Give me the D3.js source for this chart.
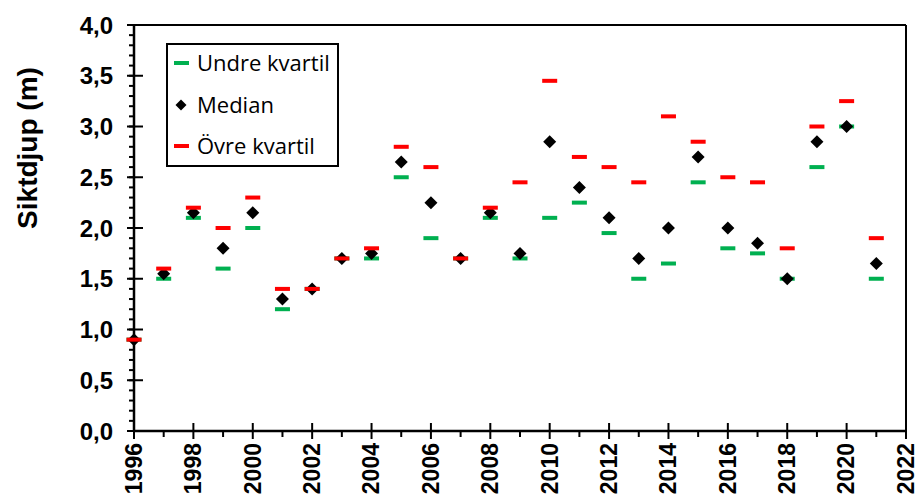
<!DOCTYPE html>
<html>
<head>
<meta charset="utf-8">
<script src="https://cdn.jsdelivr.net/npm/d3@7"></script>
<style>
  html, body { margin: 0; padding: 0; background: #fff; }
  svg { display: block; }
</style>
</head>
<body>
<svg id="chart" width="918" height="503"></svg>
<script>
// Siktdjup per år: undre kvartil, median, övre kvartil (m)
const years  = [1996, 1997, 1998, 1999, 2000, 2001, 2002, 2003, 2004, 2005, 2006, 2007, 2008,
                2009, 2010, 2011, 2012, 2013, 2014, 2015, 2016, 2017, 2018, 2019, 2020, 2021];
const lower  = [0.9, 1.5, 2.1, 1.6, 2.0, 1.2, 1.4, 1.7, 1.7, 2.5, 1.9, 1.7, 2.1,
                1.7, 2.1, 2.25, 1.95, 1.5, 1.65, 2.45, 1.8, 1.75, 1.5, 2.6, 3.0, 1.5];
const median = [0.9, 1.55, 2.15, 1.8, 2.15, 1.3, 1.4, 1.7, 1.75, 2.65, 2.25, 1.7, 2.15,
                1.75, 2.85, 2.4, 2.1, 1.7, 2.0, 2.7, 2.0, 1.85, 1.5, 2.85, 3.0, 1.65];
const upper  = [0.9, 1.6, 2.2, 2.0, 2.3, 1.4, 1.4, 1.7, 1.8, 2.8, 2.6, 1.7, 2.2,
                2.45, 3.45, 2.7, 2.6, 2.45, 3.1, 2.85, 2.5, 2.45, 1.8, 3.0, 3.25, 1.9];

const xTicks = d3.range(1996, 2023, 2);
const xMinorTicks = d3.range(1997, 2022, 2);
const yTicks = d3.range(0, 4.01, 0.5);
const yMinorTicks = d3.range(0, 4.001, 0.1);

const legendItems = [
  { label: "Undre kvartil", kind: "lower" },
  { label: "Median", kind: "median" },
  { label: "Övre kvartil", kind: "upper" }
];

const colors = { lower: "#00B050", upper: "#FF0000", median: "#000000" };

const svg = d3.select("#chart");
const plot = { left: 134, right: 906, top: 25, bottom: 431 };

const x = d3.scaleLinear().domain([1996, 2022]).range([plot.left, plot.right]);
const y = d3.scaleLinear().domain([0, 4]).range([plot.bottom, plot.top]);

const fmt = v => d3.format(".1f")(v).replace(".", ",");
const tickFont = "'Liberation Sans', Arial, sans-serif";

// frame: top and right borders
svg.append("line")
  .attr("x1", plot.left).attr("x2", plot.right)
  .attr("y1", plot.top).attr("y2", plot.top)
  .attr("stroke", "#000").attr("stroke-width", 2);
svg.append("line")
  .attr("x1", plot.right).attr("x2", plot.right)
  .attr("y1", plot.top).attr("y2", plot.bottom)
  .attr("stroke", "#000").attr("stroke-width", 2);

// y axis: minor ticks outside, major ticks crossing
const yAxisG = svg.append("g");
yAxisG.selectAll("line.minor")
  .data(yMinorTicks).join("line")
  .attr("class", "minor")
  .attr("x1", plot.left - 5).attr("x2", plot.left)
  .attr("y1", d => y(d)).attr("y2", d => y(d))
  .attr("stroke", "#000").attr("stroke-width", 2);
yAxisG.selectAll("line.major")
  .data(yTicks).join("line")
  .attr("class", "major")
  .attr("x1", plot.left - 7).attr("x2", plot.left + 9)
  .attr("y1", d => y(d)).attr("y2", d => y(d))
  .attr("stroke", "#000").attr("stroke-width", 2);
yAxisG.append("line")
  .attr("x1", plot.left).attr("x2", plot.left)
  .attr("y1", plot.top - 1).attr("y2", plot.bottom + 1)
  .attr("stroke", "#000").attr("stroke-width", 2.5);
yAxisG.selectAll("text")
  .data(yTicks).join("text")
  .attr("x", plot.left - 21)
  .attr("y", d => y(d))
  .attr("dy", "0.36em")
  .attr("text-anchor", "end")
  .attr("font-family", tickFont)
  .attr("font-weight", "bold")
  .attr("font-size", 24)
  .attr("fill", "#000")
  .text(fmt);

// x axis: minor ticks below, major ticks crossing
const xAxisG = svg.append("g");
xAxisG.selectAll("line.minor")
  .data(xMinorTicks).join("line")
  .attr("class", "minor")
  .attr("x1", d => x(d)).attr("x2", d => x(d))
  .attr("y1", plot.bottom).attr("y2", plot.bottom + 6)
  .attr("stroke", "#000").attr("stroke-width", 2);
xAxisG.selectAll("line.major")
  .data(xTicks).join("line")
  .attr("class", "major")
  .attr("x1", d => x(d)).attr("x2", d => x(d))
  .attr("y1", plot.bottom - 8).attr("y2", plot.bottom + 8)
  .attr("stroke", "#000").attr("stroke-width", 2);
xAxisG.append("line")
  .attr("x1", plot.left - 1).attr("x2", plot.right + 1)
  .attr("y1", plot.bottom).attr("y2", plot.bottom)
  .attr("stroke", "#000").attr("stroke-width", 2.5);
xAxisG.selectAll("text")
  .data(xTicks).join("text")
  .attr("transform", d => `translate(${x(d)},${plot.bottom + 12}) rotate(-90)`)
  .attr("dy", "0.34em")
  .attr("text-anchor", "end")
  .attr("font-family", tickFont)
  .attr("font-weight", "bold")
  .attr("font-size", 23)
  .attr("fill", "#000")
  .text(d => d);

// y axis title
svg.append("text")
  .attr("transform", "translate(27,148) rotate(-90)")
  .attr("dy", "0.36em")
  .attr("text-anchor", "middle")
  .attr("font-family", tickFont)
  .attr("font-weight", "bold")
  .attr("font-size", 28)
  .attr("fill", "#000")
  .text("Siktdjup (m)");

// marks
const barW = 15, barH = 4, dHalf = 6.5;
const diamondPath = `M0,${-dHalf}L${dHalf},0L0,${dHalf}L${-dHalf},0Z`;
const rows = years.map((yr, i) => ({ yr, lo: lower[i], med: median[i], up: upper[i] }));

const marks = svg.append("g");
marks.selectAll("rect.lower")
  .data(rows).join("rect")
  .attr("class", "lower")
  .attr("x", d => x(d.yr) - barW / 2)
  .attr("y", d => y(d.lo) - barH / 2)
  .attr("width", barW).attr("height", barH)
  .attr("fill", colors.lower);
marks.selectAll("path.median")
  .data(rows).join("path")
  .attr("class", "median")
  .attr("transform", d => `translate(${x(d.yr)},${y(d.med)})`)
  .attr("d", diamondPath)
  .attr("fill", colors.median);
marks.selectAll("rect.upper")
  .data(rows).join("rect")
  .attr("class", "upper")
  .attr("x", d => x(d.yr) - barW / 2)
  .attr("y", d => y(d.up) - barH / 2)
  .attr("width", barW).attr("height", barH)
  .attr("fill", colors.upper);

// legend
const legend = svg.append("g");
legend.append("rect")
  .attr("x", 167).attr("y", 44)
  .attr("width", 171).attr("height", 122)
  .attr("fill", "#fff")
  .attr("stroke", "#000").attr("stroke-width", 2);
const rowY = [63, 105, 146];
legendItems.forEach((item, i) => {
  const cy = rowY[i];
  if (item.kind === "median") {
    legend.append("path")
      .attr("transform", `translate(181,${cy})`)
      .attr("d", `M0,-5.5L5.5,0L0,5.5L-5.5,0Z`)
      .attr("fill", colors.median);
  } else {
    legend.append("rect")
      .attr("x", 174).attr("y", cy - barH / 2)
      .attr("width", barW).attr("height", barH)
      .attr("fill", colors[item.kind]);
  }
  legend.append("text")
    .attr("x", 197).attr("y", cy)
    .attr("dy", "0.36em")
    .attr("font-family", "'Open Sans', sans-serif")
    .attr("font-size", 22)
    .attr("fill", "#000")
    .text(item.label);
});
</script>
</body>
</html>
